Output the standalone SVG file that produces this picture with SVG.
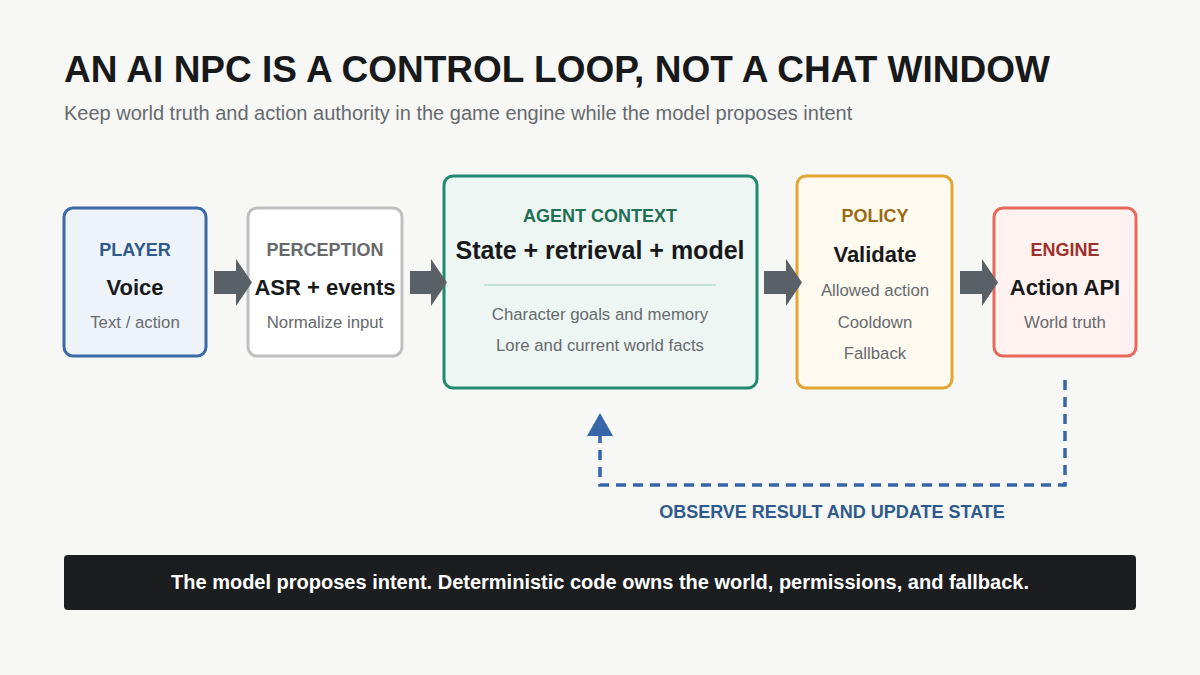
<svg xmlns="http://www.w3.org/2000/svg" width="1200" height="675" viewBox="0 0 1200 675">
  <style>
    text { font-family: "Liberation Sans", Arial, sans-serif; }
    .title { font-size: 37px; font-weight: 700; fill: #17191b; }
    .sub { font-size: 20px; fill: #666a6e; }
    .cat { font-size: 18px; font-weight: 700; text-anchor: middle; }
    .main { font-size: 22px; font-weight: 700; fill: #17191b; text-anchor: middle; }
    .note { font-size: 16.8px; fill: #666a6e; text-anchor: middle; }
    .box { stroke-width: 3; }
    .flow { fill: #596166; }
    .loop { fill: none; stroke: #3566a8; stroke-width: 3.5; stroke-dasharray: 10 7; }
  </style>
  <rect width="1200" height="675" fill="#f7f7f5"/>

  <text class="title" x="64" y="82">AN AI NPC IS A CONTROL LOOP, NOT A CHAT WINDOW</text>
  <text class="sub" x="64" y="120">Keep world truth and action authority in the game engine while the model proposes intent</text>

  <g id="player">
    <rect class="box" x="64" y="208" width="142" height="148" rx="9" fill="#eef3fa" stroke="#3a6aa8"/>
    <text class="cat" x="135" y="256" fill="#2e5a8c">PLAYER</text>
    <text class="main" x="135" y="295">Voice</text>
    <text class="note" x="135" y="328">Text / action</text>
  </g>

  <g id="perception">
    <rect class="box" x="248" y="208" width="154" height="148" rx="9" fill="#ffffff" stroke="#bdbfc0"/>
    <text class="cat" x="325" y="256" fill="#66696c">PERCEPTION</text>
    <text class="main" x="325" y="295">ASR + events</text>
    <text class="note" x="325" y="328">Normalize input</text>
  </g>

  <g id="agent-context">
    <rect class="box" x="444" y="176" width="313" height="212" rx="9" fill="#eef6f3" stroke="#1f8a6e"/>
    <text class="cat" x="600" y="222" fill="#1f6f55">AGENT CONTEXT</text>
    <text class="main" x="600" y="259" style="font-size:25px">State + retrieval + model</text>
    <line x1="484" y1="285" x2="716" y2="285" stroke="#b9d9cf" stroke-width="1.5"/>
    <text class="note" x="600" y="320">Character goals and memory</text>
    <text class="note" x="600" y="351">Lore and current world facts</text>
  </g>

  <g id="policy">
    <rect class="box" x="797" y="176" width="155" height="212" rx="9" fill="#fffaf0" stroke="#e2a632"/>
    <text class="cat" x="875" y="222" fill="#9a6a12">POLICY</text>
    <text class="main" x="875" y="262">Validate</text>
    <text class="note" x="875" y="296">Allowed action</text>
    <text class="note" x="875" y="328">Cooldown</text>
    <text class="note" x="875" y="359">Fallback</text>
  </g>

  <g id="engine">
    <rect class="box" x="994" y="208" width="142" height="148" rx="9" fill="#fff2f0" stroke="#e8685a"/>
    <text class="cat" x="1065" y="256" fill="#a0302a">ENGINE</text>
    <text class="main" x="1065" y="295">Action API</text>
    <text class="note" x="1065" y="328">World truth</text>
  </g>

  <g id="connectors">
    <path class="flow" d="M214 271 H236 V259 L252 282.5 L236 306 V294 H214 Z"/>
    <path class="flow" d="M410 271 H431 V259 L447 282.5 L431 306 V294 H410 Z"/>
    <path class="flow" d="M764 271 H786 V259 L802 282.5 L786 306 V294 H764 Z"/>
    <path class="flow" d="M960 271 H982 V259 L998 282.5 L982 306 V294 H960 Z"/>
    <path class="loop" d="M1065 380 V485 H600 V436"/>
    <path d="M587 436 L600 413 L613 436 Z" fill="#3566a8"/>
    <text x="832" y="518" text-anchor="middle" style="font-size:18px;font-weight:700" fill="#2e5a8c">OBSERVE RESULT AND UPDATE STATE</text>
  </g>

  <g id="takeaway">
    <rect x="64" y="555" width="1072" height="55" rx="4" fill="#1b1d1f"/>
    <text x="600" y="589" text-anchor="middle" style="font-size:20px;font-weight:700" fill="#ffffff">The model proposes intent. Deterministic code owns the world, permissions, and fallback.</text>
  </g>
</svg>
